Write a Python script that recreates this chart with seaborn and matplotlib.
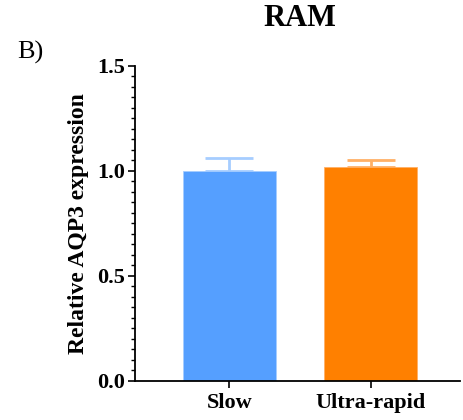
import matplotlib
matplotlib.use("Agg")
import matplotlib.pyplot as plt
import seaborn as sns
import pandas as pd
from matplotlib.ticker import MultipleLocator

categories = ["Slow", "Ultra-rapid"]
means = [1.00, 1.02]
errors = [0.06, 0.03]
bar_colors = ["#559FFF", "#FF8000"]
err_colors = ["#A6CDFF", "#FFB066"]

sns.set_style("ticks", {"axes.edgecolor": "black", "text.color": "black",
                        "xtick.color": "black", "ytick.color": "black",
                        "axes.labelcolor": "black"})
plt.rcParams['font.family'] = ['Liberation Serif', 'DejaVu Serif']

df = pd.DataFrame({"group": categories, "value": means})

fig = plt.figure(figsize=(4.64, 4.2), dpi=100)
ax = fig.add_axes([0.291, 0.093, 0.7, 0.75])
sns.barplot(data=df, x="group", y="value", hue="group", palette=bar_colors,
            width=0.66, errorbar=None, legend=False, ax=ax, saturation=1,
            zorder=2)
for p, c in zip(ax.patches, err_colors):
    p.set_edgecolor(c)
    p.set_linewidth(0.6)

for i, (m, e, c) in enumerate(zip(means, errors, err_colors)):
    ax.errorbar(i, m, yerr=[[0], [e]], fmt="none", ecolor=c, elinewidth=2,
                capsize=17, capthick=2, zorder=1)

ax.set_ylim(0, 1.5)
ax.set_xlim(-0.668, 1.63)
ax.yaxis.set_minor_locator(MultipleLocator(0.05))
ax.set_yticks([0, 0.5, 1.0, 1.5])
ax.set_yticklabels(["0.0", "0.5", "1.0", "1.5"])
ax.tick_params(axis="y", which="major", length=5, width=1.2, labelsize=16, pad=2)
ax.tick_params(axis="y", which="minor", length=3, width=1)
ax.tick_params(axis="x", length=5, width=1.2, labelsize=16, pad=4)
for lab in ax.get_xticklabels() + ax.get_yticklabels():
    lab.set_fontweight("bold")
ax.set_xlabel("")
ax.set_ylabel("Relative AQP3 expression", fontsize=17, fontweight="bold", labelpad=6)
for s in ["top", "right"]:
    ax.spines[s].set_visible(False)
ax.spines["left"].set_linewidth(1.3)
ax.spines["bottom"].set_linewidth(1.3)
ax.spines["left"].set_zorder(3)
ax.spines["bottom"].set_zorder(3)

fig.text(0.647, 0.955, "RAM", fontsize=22, fontweight="bold", ha="center", va="center")
fig.text(0.037, 0.876, "B)", fontsize=19, ha="left", va="center")

fig.savefig("out.png", dpi=100)
